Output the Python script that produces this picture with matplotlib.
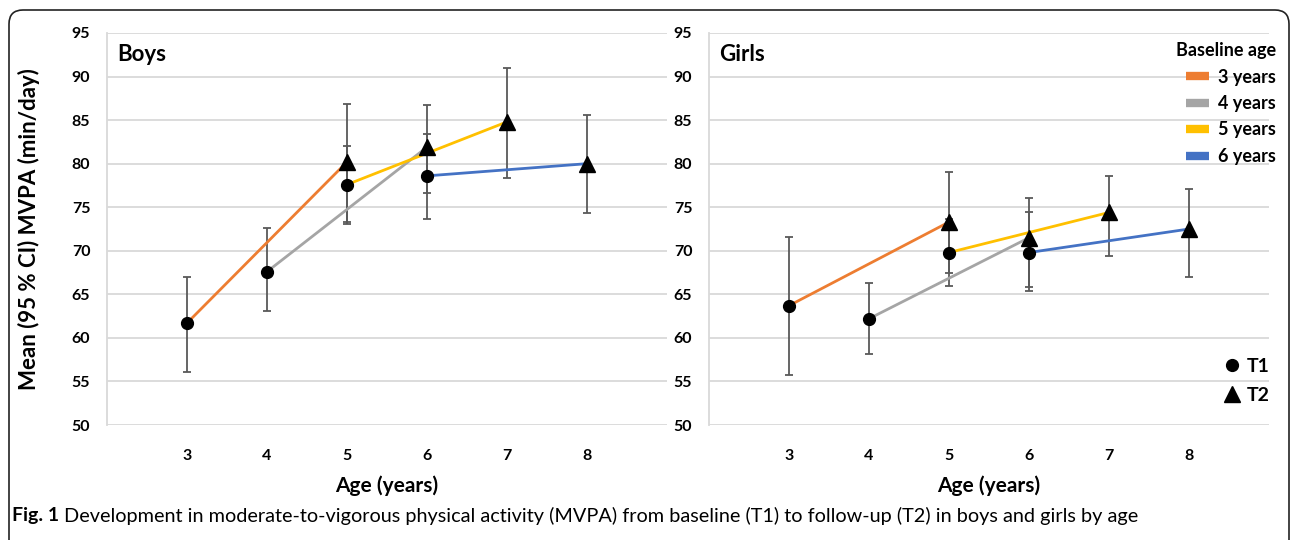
import matplotlib.pyplot as plt
from matplotlib.lines import Line2D
from matplotlib.patches import FancyBboxPatch

plt.rcParams['font.family'] = ['Lato', 'DejaVu Sans']

# baseline age cohorts, T2 is measured two years later
cohorts = [3, 4, 5, 6]
cohort_labels = ['3 years', '4 years', '5 years', '6 years']
cohort_colors = ['#ED7D31', '#A5A5A5', '#FFC000', '#4472C4']

boys_t1 = [61.7, 67.6, 77.6, 78.6]
boys_t1_lo = [56.1, 63.1, 73.1, 73.6]
boys_t1_hi = [67.0, 72.6, 82.0, 83.4]
boys_t2 = [80.2, 81.9, 84.8, 80.0]
boys_t2_lo = [73.3, 76.6, 78.3, 74.3]
boys_t2_hi = [86.8, 86.7, 91.0, 85.6]

girls_t1 = [63.7, 62.2, 69.8, 69.8]
girls_t1_lo = [55.7, 58.2, 66.0, 65.4]
girls_t1_hi = [71.6, 66.3, 73.6, 74.4]
girls_t2 = [73.3, 71.5, 74.4, 72.5]
girls_t2_lo = [67.4, 65.8, 69.4, 67.0]
girls_t2_hi = [79.0, 76.1, 78.6, 77.1]

age_ticks = [3, 4, 5, 6, 7, 8]
y_ticks = list(range(50, 100, 5))

fig = plt.figure(figsize=(12.93, 5.40), dpi=100)
ax_b = fig.add_axes([107 / 1293, 1 - 425 / 540, 560 / 1293, 392 / 540])
ax_g = fig.add_axes([709 / 1293, 1 - 425 / 540, 560 / 1293, 392 / 540])

err_color = '#595959'


def draw_panel(ax, t1, t1_lo, t1_hi, t2, t2_lo, t2_hi, title):
    for i, age in enumerate(cohorts):
        ax.plot([age, age + 2], [t1[i], t2[i]], color=cohort_colors[i], lw=2.0, zorder=3)
    for i, age in enumerate(cohorts):
        ax.errorbar(age, t1[i], yerr=[[t1[i] - t1_lo[i]], [t1_hi[i] - t1[i]]],
                    fmt='none', ecolor=err_color, elinewidth=1.3, capsize=3, capthick=1.3, zorder=2)
        ax.errorbar(age + 2, t2[i], yerr=[[t2[i] - t2_lo[i]], [t2_hi[i] - t2[i]]],
                    fmt='none', ecolor=err_color, elinewidth=1.3, capsize=3, capthick=1.3, zorder=2)
        ax.plot(age, t1[i], 'o', color='black', ms=8.5, zorder=4)
        ax.plot(age + 2, t2[i], '^', color='black', ms=11, zorder=4)

    ax.set_xlim(2, 9)
    ax.set_ylim(50, 95)
    ax.set_xticks(age_ticks)
    ax.set_yticks(y_ticks)
    ax.tick_params(length=0, labelsize=11.5)
    ax.tick_params(axis='x', pad=17)
    ax.tick_params(axis='y', pad=12)
    for lab in ax.get_xticklabels() + ax.get_yticklabels():
        lab.set_fontweight('bold')
    ax.grid(axis='y', color='#D9D9D9', lw=1.3, zorder=0)
    for s in ['top', 'right', 'bottom']:
        ax.spines[s].set_visible(False)
    ax.spines['left'].set_color('#D9D9D9')
    ax.spines['left'].set_linewidth(1.3)
    ax.set_axisbelow(True)
    ax.text(0.018, 0.945, title, transform=ax.transAxes, fontsize=16,
            fontweight='bold', va='center', ha='left')


draw_panel(ax_b, boys_t1, boys_t1_lo, boys_t1_hi, boys_t2, boys_t2_lo, boys_t2_hi, 'Boys')
draw_panel(ax_g, girls_t1, girls_t1_lo, girls_t1_hi, girls_t2, girls_t2_lo, girls_t2_hi, 'Girls')

ax_b.set_ylabel('Mean (95 % CI) MVPA (min/day)', fontsize=16, fontweight='bold')
ax_b.yaxis.set_label_coords(-0.12, 0.5)

fig.text(387 / 1293, 1 - 486 / 540, 'Age (years)', fontsize=15, fontweight='bold', ha='center', va='center')
fig.text(989 / 1293, 1 - 486 / 540, 'Age (years)', fontsize=15, fontweight='bold', ha='center', va='center')

# legends
cohort_handles = [Line2D([], [], color=c, lw=6, solid_capstyle='butt') for c in cohort_colors]
leg1 = ax_g.legend(cohort_handles, cohort_labels, title='Baseline age', loc='upper right',
                   bbox_to_anchor=(1276 / 1293, 1 - 42 / 540), bbox_transform=fig.transFigure,
                   frameon=False, handlelength=1.3, handletextpad=0.5,
                   labelspacing=0.52, borderpad=0, borderaxespad=0, alignment='right',
                   prop={'weight': 'bold', 'size': 13},
                   title_fontproperties={'weight': 'bold', 'size': 13})
leg1._legend_box.sep = 7
ax_g.add_artist(leg1)

time_handles = [Line2D([], [], marker='o', color='black', ls='none', ms=8.5),
                Line2D([], [], marker='^', color='black', ls='none', ms=12)]
ax_g.legend(time_handles, ['T1', 'T2'], loc='upper right',
            bbox_to_anchor=(1270 / 1293, 1 - 358 / 540), bbox_transform=fig.transFigure,
            frameon=False, handlelength=1.0, handletextpad=0.3, labelspacing=0.6,
            borderpad=0, borderaxespad=0, prop={'weight': 'bold', 'size': 14})

# caption
cap_y = 1 - 516 / 540
fig_txt = fig.text(12 / 1293, cap_y, 'Fig. 1', fontsize=14, fontweight='bold', va='center')
fig.canvas.draw()
bb = fig_txt.get_window_extent()
fig.text((bb.x1 + 5) / 1293, cap_y,
         'Development in moderate-to-vigorous physical activity (MVPA) from baseline (T1) '
         'to follow-up (T2) in boys and girls by age',
         fontsize=14.3, va='center')

border = FancyBboxPatch((9, -40), 1280, 540 - 10 + 40, boxstyle='round,pad=0,rounding_size=14',
                        transform=None, fill=False, edgecolor='#222222', lw=1.2)
fig.patches.append(border)

fig.savefig('out.png', dpi=100)
